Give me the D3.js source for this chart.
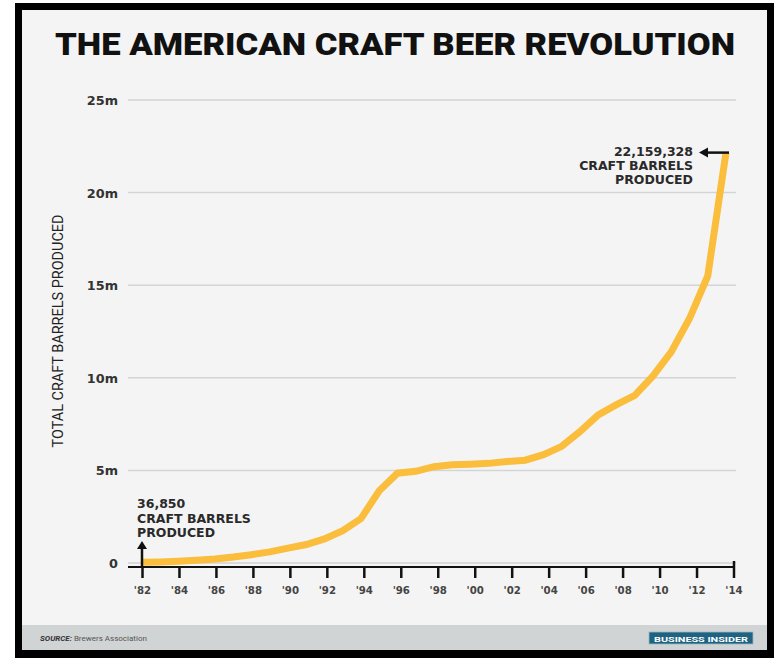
<!DOCTYPE html>
<html>
<head>
<meta charset="utf-8">
<script src="https://cdn.jsdelivr.net/npm/d3@7"></script>
<style>
body{margin:0;background:#fff;}
text{font-family:Roboto, "Liberation Sans", sans-serif;}
.lbl{font-family:"DejaVu Sans", sans-serif;font-weight:700;}
</style>
</head>
<body>
<svg id="chart" width="774" height="658"></svg>
<script>
// craft barrels produced, in millions
var years = [1982,1983,1984,1985,1986,1987,1988,1989,1990,1991,1992,1993,1994,1995,1996,1997,1998,
	1999,2000,2001,2002,2003,2004,2005,2006,2007,2008,2009,2010,2011,2012,2013,2014];
var barrels = [0.037,0.06,0.1,0.15,0.22,0.32,0.45,0.6,0.8,1.0,1.3,1.75,2.4,3.9,4.85,4.95,5.2,
	5.3,5.33,5.38,5.48,5.55,5.85,6.3,7.1,8.0,8.55,9.05,10.1,11.4,13.2,15.5,22.159328];
var xTicks = [1982,1984,1986,1988,1990,1992,1994,1996,1998,2000,2002,2004,2006,2008,2010,2012,2014];
var yTicks = [0,5,10,15,20,25];
var firstNote = ['36,850','CRAFT BARRELS','PRODUCED'];
var lastNote = ['22,159,328','CRAFT BARRELS','PRODUCED'];

var svg = d3.select('#chart');

//frame and panel
svg.append('rect').attr('x',15).attr('y',3).attr('width',759).attr('height',655).attr('fill','#000');
svg.append('rect').attr('x',22).attr('y',10).attr('width',745).attr('height',640).attr('fill','#f4f4f4');
svg.append('rect').attr('x',22).attr('y',625).attr('width',745).attr('height',25).attr('fill','#d1d4d4');

svg.append('text').attr('x',395).attr('y',55).attr('text-anchor','middle')
	.attr('font-size',32).attr('font-weight',900).attr('fill','#111')
	.attr('textLength',680).attr('lengthAdjust','spacingAndGlyphs')
	.text('THE AMERICAN CRAFT BEER REVOLUTION');

var yScale = d3.scaleLinear().domain([0,25]).range([563,100]);
var xAxisScale = d3.scaleLinear().domain([1982,2014]).range([142.5,734]);
var xLine = d3.scaleLinear().domain([1982,2014]).range([142,726]);

//gridlines and y labels
var grid = svg.append('g');
grid.selectAll('line').data(yTicks).enter().append('line')
	.attr('x1',128).attr('x2',736)
	.attr('y1',function(d){ return yScale(d); }).attr('y2',function(d){ return yScale(d); })
	.attr('stroke','#d2d5d5').attr('stroke-width',1.5);
grid.selectAll('text').data(yTicks).enter().append('text').attr('class','lbl')
	.attr('x',118).attr('y',function(d){ return yScale(d)+5; })
	.attr('text-anchor','end').attr('font-size',12.8).attr('fill','#333')
	.text(function(d){ return d==0 ? '0' : d+'m'; });

svg.append('text').attr('transform','translate(63,331) rotate(-90)')
	.attr('text-anchor','middle').attr('font-size',14).attr('fill','#222')
	.attr('textLength',233).attr('lengthAdjust','spacingAndGlyphs')
	.text('TOTAL CRAFT BARRELS PRODUCED');

//x axis
var axis = svg.append('g');
axis.append('line').attr('x1',128).attr('x2',xAxisScale(2014)+1).attr('y1',567).attr('y2',567)
	.attr('stroke','#111').attr('stroke-width',2);
axis.selectAll('line.tick').data(xTicks).enter().append('line').attr('class','tick')
	.attr('x1',function(d){ return xAxisScale(d); }).attr('x2',function(d){ return xAxisScale(d); })
	.attr('y1',function(d){ return d==2014 ? 561 : 567; }).attr('y2',578)
	.attr('stroke','#111').attr('stroke-width',2.5);
axis.selectAll('text').data(xTicks).enter().append('text').attr('class','lbl')
	.attr('x',function(d){ return xAxisScale(d); }).attr('y',594)
	.attr('text-anchor','middle').attr('font-size',10.2).attr('fill','#444')
	.text(function(d){ return "'" + String(d).slice(2); });

//line
var line = d3.line().x(function(d,i){ return xLine(years[i]); }).y(function(d){ return yScale(d); });
svg.append('path').datum(barrels).attr('d',line)
	.attr('fill','none').attr('stroke','#fbbd3c').attr('stroke-width',7).attr('stroke-linejoin','miter');

//annotations
var x0 = xLine(years[0]);
svg.append('line').attr('x1',x0).attr('x2',x0).attr('y1',567).attr('y2',548)
	.attr('stroke','#111').attr('stroke-width',2.5);
svg.append('path').attr('d','M'+(x0-5)+',549 L'+x0+',541 L'+(x0+5)+',549 Z').attr('fill','#111');
svg.append('g').selectAll('text').data(firstNote).enter().append('text').attr('class','lbl')
	.attr('x',137).attr('y',function(d,i){ return 508+i*14.5; })
	.attr('font-size',12.5).attr('fill','#2a2a2a')
	.text(function(d){ return d; });

var xN = xLine(years[years.length-1]), yN = yScale(barrels[barrels.length-1]);
svg.append('line').attr('x1',xN+3).attr('x2',706).attr('y1',yN).attr('y2',yN)
	.attr('stroke','#111').attr('stroke-width',2.5);
svg.append('path').attr('d','M708,'+(yN-5)+' L699,'+yN+' L708,'+(yN+5)+' Z').attr('fill','#111');
svg.append('g').selectAll('text').data(lastNote).enter().append('text').attr('class','lbl')
	.attr('x',693).attr('y',function(d,i){ return yN+3+i*14; })
	.attr('text-anchor','end').attr('font-size',12.5).attr('fill','#2a2a2a')
	.text(function(d){ return d; });

//footer
var src = svg.append('text').attr('x',40).attr('y',641).attr('font-size',8).attr('fill','#555');
src.append('tspan').attr('font-weight',700).attr('font-style','italic').attr('fill','#333').text('SOURCE:');
src.append('tspan').text(' Brewers Association');

svg.append('rect').attr('x',649).attr('y',632).attr('width',104).attr('height',12)
	.attr('fill','#1e6482').attr('stroke','#9fb7c2').attr('stroke-width',0.8);
svg.append('text').attr('x',701).attr('y',641.5).attr('text-anchor','middle')
	.attr('font-family','"DejaVu Serif", serif').attr('font-size',8).attr('font-weight',700).attr('fill','#fff')
	.attr('textLength',94).attr('lengthAdjust','spacingAndGlyphs')
	.text('BUSINESS INSIDER');
</script>
</body>
</html>
